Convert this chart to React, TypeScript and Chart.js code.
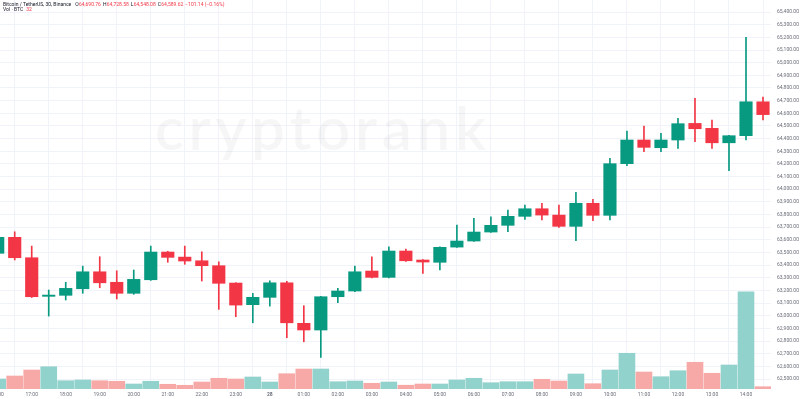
import React, { useEffect, useRef } from 'react';
import { Chart, registerables } from 'chart.js';
Chart.register(...registerables);

// 30-minute candles, Bitcoin / TetherUS, Binance
const candleTimes = [
  '16:00', '16:30', '17:00', '17:30', '18:00', '18:30', '19:00', '19:30', '20:00', '20:30',
  '21:00', '21:30', '22:00', '22:30', '23:00', '23:30', '28', '00:30', '01:00', '01:30',
  '02:00', '02:30', '03:00', '03:30', '04:00', '04:30', '05:00', '05:30', '06:00', '06:30',
  '07:00', '07:30', '08:00', '08:30', '09:00', '09:30', '10:00', '10:30', '11:00', '11:30',
  '12:00', '12:30', '13:00', '13:30', '14:00', '14:30',
];

const opens = [
  63494, 63620, 63459, 63154, 63162, 63214, 63348, 63265, 63178, 63285,
  63504, 63464, 63435, 63396, 63259, 63088, 63146, 63261, 62941, 62888,
  63151, 63196, 63354, 63304, 63512, 63441, 63423, 63543, 63591, 63662,
  63715, 63786, 63846, 63796, 63707, 63889, 63794, 64202, 64389, 64328,
  64389, 64520, 64481, 64367, 64423, 64690.76,
];
const highs = [
  63625, 63664, 63551, 63204, 63265, 63393, 63467, 63356, 63362, 63551,
  63510, 63551, 63506, 63427, 63262, 63178, 63277, 63273, 63080, 63155,
  63217, 63393, 63467, 63546, 63528, 63445, 63545, 63717, 63770, 63783,
  63836, 63875, 63889, 63875, 63976, 63920, 64244, 64460, 64499, 64442,
  64560, 64718, 64547, 64425, 65200, 64728.58,
];
const lows = [
  63490, 63441, 63145, 62998, 63125, 63178, 63222, 63133, 63170, 63280,
  63423, 63407, 63275, 63051, 62993, 62945, 63077, 62827, 62795, 62672,
  63103, 63190, 63300, 63300, 63430, 63336, 63362, 63540, 63588, 63658,
  63664, 63762, 63757, 63699, 63593, 63751, 63757, 64186, 64296, 64296,
  64323, 64375, 64323, 64146, 64389, 64548.08,
];
const closes = [
  63620, 63459, 63151, 63164, 63217, 63348, 63261, 63178, 63288, 63504,
  63462, 63433, 63396, 63257, 63085, 63146, 63261, 62945, 62888, 63151,
  63196, 63348, 63304, 63512, 63435, 63425, 63541, 63591, 63662, 63715,
  63786, 63846, 63796, 63707, 63889, 63794, 64202, 64389, 64331, 64389,
  64518, 64478, 64367, 64423, 64691, 64589.62,
];
const volumes = [
  140, 182, 266, 312, 116, 126, 116, 108, 70, 108,
  66, 52, 98, 150, 140, 168, 98, 214, 280, 280,
  102, 112, 80, 98, 53, 70, 70, 126, 150, 88,
  102, 102, 136, 112, 210, 74, 266, 500, 238, 172,
  256, 374, 220, 336, 1362, 32,
];

const priceTicks = [
  62500, 62600, 62700, 62800, 62900, 63000, 63100, 63200, 63300, 63400,
  63500, 63600, 63700, 63800, 63900, 64000, 64100, 64200, 64300, 64400,
  64500, 64600, 64700, 64800, 64900, 65000, 65100, 65200, 65300, 65400,
];

const headerSymbol = 'Bitcoin / TetherUS, 30, Binance';
const headerVolLabel = 'Vol · BTC';

const UP = '#089981';
const DOWN = '#f23645';
const VOL_UP = '#92d2cc';
const VOL_DOWN = '#f7a9a7';
const GRID = '#f0f3fa';
const TEXT = '#131722';
const AXIS_TEXT = '#6a6d78';

const fmt = (v: number) =>
  v.toLocaleString('en-US', { minimumFractionDigits: 2, maximumFractionDigits: 2 });

export default function App() {
  const ref = useRef<HTMLCanvasElement | null>(null);

  useEffect(() => {
    if (!ref.current) return;
    const up = closes.map((c, i) => c >= opens[i]);
    const hourTickIdx = candleTimes
      .map((t, i) => (t.endsWith(':00') || t === '28' ? i : -1))
      .filter((i) => i >= 0);

    const last = closes.length - 1;
    const change = closes[last] - opens[last];
    const pct = (change / opens[last]) * 100;

    const watermark = {
      id: 'watermark',
      beforeDatasetsDraw(chart: any) {
        const ctx = chart.ctx;
        ctx.save();
        ctx.font = '600 60px Lato';
        ctx.fillStyle = 'rgba(0,0,0,0.035)';
        ctx.textBaseline = 'alphabetic';
        const text = 'cryptorank';
        const w = ctx.measureText(text).width;
        const target = 330;
        const spacing = (target - w) / (text.length - 1);
        let x = 155;
        for (const ch of text) {
          ctx.fillText(ch, x, 150);
          x += ctx.measureText(ch).width + spacing;
        }
        ctx.restore();
      },
    };

    const header = {
      id: 'header',
      afterDraw(chart: any) {
        const ctx = chart.ctx;
        ctx.save();
        ctx.font = '5px Roboto';
        ctx.textBaseline = 'middle';
        let x = 3;
        const y1 = 5;
        const put = (s: string, color: string, yy: number, gap = 0) => {
          ctx.fillStyle = color;
          ctx.fillText(s, x, yy);
          x += ctx.measureText(s).width + gap;
        };
        const col = up[last] ? UP : DOWN;
        put(headerSymbol, TEXT, y1, 4);
        put('O', TEXT, y1, 0.3); put(fmt(opens[last]), col, y1, 2);
        put('H', TEXT, y1, 0.3); put(fmt(highs[last]), col, y1, 2);
        put('L', TEXT, y1, 0.3); put(fmt(lows[last]), col, y1, 2);
        put('C', TEXT, y1, 0.3); put(fmt(closes[last]), col, y1, 2);
        put((change < 0 ? '−' : '+') + fmt(Math.abs(change)) + ' (' + (pct < 0 ? '−' : '+') + Math.abs(pct).toFixed(2) + '%)', col, y1);
        x = 3;
        const y2 = 10;
        put(headerVolLabel, TEXT, y2, 3);
        put(String(volumes[last]), col, y2);
        ctx.restore();
      },
    };

    const chart = new Chart(ref.current, {
      type: 'bar',
      data: {
        datasets: [
          {
            label: 'Bodies',
            data: opens.map((o, i) => ({ x: i, y: [o, closes[i]] })) as any,
            backgroundColor: up.map((u) => (u ? UP : DOWN)),
            barThickness: 12.5,
            grouped: false,
            yAxisID: 'y',
            order: 1,
          },
          {
            label: 'Wicks',
            data: lows.map((l, i) => ({ x: i, y: [l, highs[i]] })) as any,
            backgroundColor: up.map((u) => (u ? UP : DOWN)),
            barThickness: 1,
            grouped: false,
            yAxisID: 'y',
            order: 2,
          },
          {
            label: 'Volume',
            data: volumes.map((v, i) => ({ x: i, y: v })) as any,
            backgroundColor: up.map((u) => (u ? VOL_UP : VOL_DOWN)),
            barThickness: 16,
            grouped: false,
            yAxisID: 'yv',
            order: 3,
          },
        ],
      },
      options: {
        responsive: false,
        animation: false,
        layout: { padding: 0 },
        plugins: { legend: { display: false }, tooltip: { enabled: false } },
        scales: {
          x: {
            type: 'linear',
            min: 0.135,
            max: 45.47,
            offset: false,
            border: { display: false },
            grid: { color: GRID, drawTicks: false },
            ticks: {
              autoSkip: false,
              maxRotation: 0,
              padding: 2.5,
              color: AXIS_TEXT,
              font: (c: any) => ({
                family: 'Roboto',
                size: 5,
                weight: c.tick && candleTimes[c.tick.value] === '28' ? 'bold' : 'normal',
              }),
              callback: (v: any) => candleTimes[v] ?? '',
            },
            afterBuildTicks: (ax: any) => {
              ax.ticks = hourTickIdx.map((v) => ({ value: v }));
            },
            afterFit: (ax: any) => {
              ax.height = 10;
              ax.paddingLeft = 0;
              ax.paddingRight = 0;
            },
          } as any,
          y: {
            type: 'linear',
            position: 'right',
            min: 62422,
            max: 65495,
            border: { display: false },
            grid: { color: GRID, drawTicks: false },
            ticks: {
              padding: 6,
              color: AXIS_TEXT,
              font: { family: 'Roboto', size: 5 },
              callback: (v: any) => fmt(Number(v)),
            },
            afterBuildTicks: (ax: any) => {
              ax.ticks = priceTicks.map((v) => ({ value: v }));
            },
            afterFit: (ax: any) => {
              ax.width = 29;
              ax.paddingTop = 0;
              ax.paddingBottom = 0;
            },
          } as any,
          yv: {
            type: 'linear',
            display: false,
            min: 0,
            max: 5446,
          },
        },
      },
      plugins: [watermark, header],
    });
    return () => chart.destroy();
  }, []);

  return (
    <div style={{ position: 'fixed', left: 0, top: 0, width: 800, height: 399, background: '#fff' }}>
      <canvas ref={ref} width={800} height={399} style={{ display: 'block' }} />
    </div>
  );
}
